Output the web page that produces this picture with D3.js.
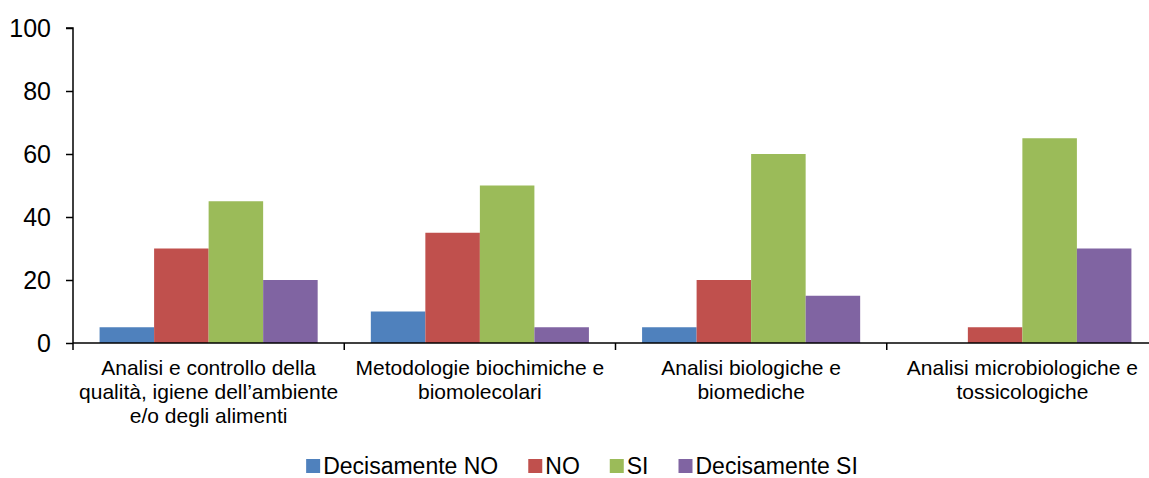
<!DOCTYPE html>
<html><head><meta charset="utf-8">
<script src="https://cdn.jsdelivr.net/npm/d3@7"></script>
<style>body{margin:0;background:#fff}svg{display:block;font-family:"Liberation Sans",Arial,sans-serif}</style>
</head><body>
<svg id="c" width="1149" height="478"></svg>
<script>
const categories = [
  ["Analisi e controllo della", "qualità, igiene dell’ambiente", "e/o degli alimenti"],
  ["Metodologie biochimiche e", "biomolecolari"],
  ["Analisi biologiche e", "biomediche"],
  ["Analisi microbiologiche e", "tossicologiche"]
];
const seriesNames = ["Decisamente NO", "NO", "SI", "Decisamente SI"];
const decisamenteNO = [5, 10, 5, 0];
const no = [30, 35, 20, 5];
const si = [45, 50, 60, 65];
const decisamenteSI = [20, 5, 15, 30];
const yTicks = [0, 20, 40, 60, 80, 100];
const colors = ["#4F81BD", "#C0504D", "#9BBB59", "#8064A2"];
const seriesValues = [decisamenteNO, no, si, decisamenteSI];

(function () {
const svg = d3.select("#c");
const pLeft = 73, pRight = 1158, pTop = 28, pBottom = 343;
const catIdx = d3.range(categories.length);
const x0 = d3.scaleBand().domain(catIdx).range([pLeft, pRight]).paddingInner(0.196).paddingOuter(0.098);
const x1 = d3.scaleBand().domain(d3.range(seriesNames.length)).range([0, x0.bandwidth()]);
const y = d3.scaleLinear().domain([0, 100]).range([pBottom, pTop]);

// bars
catIdx.forEach(ci => {
  svg.append("g").attr("transform", `translate(${x0(ci)},0)`)
    .selectAll("rect").data(seriesValues.map((s, k) => ({k, v: s[ci]})))
    .join("rect")
    .attr("x", d => x1(d.k)).attr("width", x1.bandwidth())
    .attr("y", d => y(d.v)).attr("height", d => y(0) - y(d.v))
    .attr("fill", d => colors[d.k]);
});

// y axis
const ya = svg.append("g").attr("transform", `translate(${pLeft},0)`)
  .call(d3.axisLeft(y).tickValues(yTicks).tickSize(7).tickPadding(15));
ya.selectAll("text").attr("font-size", 25).attr("fill", "#000").attr("font-family", '"Liberation Sans",Arial,sans-serif');
ya.selectAll("line,path").attr("stroke", "#000").attr("stroke-width", 1.5);
ya.select("path").attr("d", `M-7,${pTop}H0V${pBottom}`);

// x axis
const xa = svg.append("g").attr("transform", `translate(0,${pBottom})`);
xa.append("line").attr("x1", pLeft).attr("x2", pRight).attr("stroke", "#000").attr("stroke-width", 1.5);
const bounds = catIdx.map(i => x0(i) - x0.step() * 0.098).concat([pRight]);
xa.selectAll(".tk").data(bounds).join("line").attr("class", "tk")
  .attr("x1", d => d).attr("x2", d => d).attr("y1", 0).attr("y2", 7)
  .attr("stroke", "#000").attr("stroke-width", 1.5);
catIdx.forEach(ci => {
  const cx = x0(ci) + x0.bandwidth() / 2;
  const t = xa.append("text").attr("text-anchor", "middle").attr("font-size", 21).attr("x", cx);
  categories[ci].forEach((line, li) => {
    t.append("tspan").attr("x", cx).attr("y", 32 + li * 24).text(line);
  });
});

// legend
const lg = svg.append("g");
let lx = 0;
seriesNames.forEach((n, i) => {
  const g = lg.append("g");
  g.append("rect").attr("width", 14).attr("height", 14).attr("y", -15).attr("fill", colors[i]);
  const t = g.append("text").attr("x", 17).attr("font-size", 23).text(n);
  const w = 17 + t.node().getComputedTextLength();
  g.attr("transform", `translate(${lx},0)`);
  lx += w + 30;
});
const totalW = lx - 30;
lg.attr("transform", `translate(${582 - totalW / 2},474)`);
})();
</script>
</body></html>
